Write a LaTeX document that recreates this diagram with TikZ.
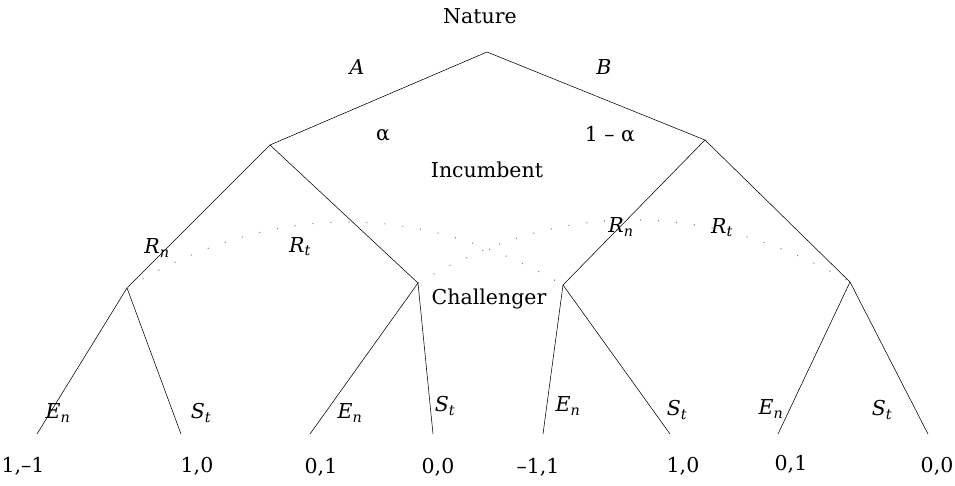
\documentclass[tikz,border=0pt]{standalone}
\usepackage{fontspec}
\setmainfont{DejaVu Serif}
\newcommand{\lab}[2]{\textit{#1}\textsubscript{\textit{#2}}}
\begin{document}
\begin{tikzpicture}[x=1pt,y=-1pt,
  edge/.style={line width=0.55pt},
  infoset/.style={line width=1.1pt,gray,dash pattern=on 1pt off 17pt},
  lbl/.style={font=\fontsize{20.5}{24}\selectfont},
  pay/.style={font=\fontsize{20.5}{24}\selectfont}]
\useasboundingbox (0,0) rectangle (955,485);
% tree nodes
\coordinate (root) at (487,52);
\coordinate (I1) at (270,145);
\coordinate (I2) at (705,140);
\coordinate (C1) at (127,288);
\coordinate (C2) at (418,283);
\coordinate (C3) at (563,285);
\coordinate (C4) at (850,282);
\coordinate (L1) at (37,434);
\coordinate (L2) at (181,434);
\coordinate (L3) at (310,434);
\coordinate (L4) at (433,434);
\coordinate (L5) at (543,434);
\coordinate (L6) at (670,434);
\coordinate (L7) at (778,434);
\coordinate (L8) at (928,434);
% edges
\draw[edge] (root) -- (I1);
\draw[edge] (root) -- (I2);
\draw[edge] (I1) -- (C1);
\draw[edge] (I1) -- (C2);
\draw[edge] (I2) -- (C3);
\draw[edge] (I2) -- (C4);
\draw[edge] (C1) -- (L1);
\draw[edge] (C1) -- (L2);
\draw[edge] (C2) -- (L3);
\draw[edge] (C2) -- (L4);
\draw[edge] (C3) -- (L5);
\draw[edge] (C3) -- (L6);
\draw[edge] (C4) -- (L7);
\draw[edge] (C4) -- (L8);
% information sets
\draw[infoset] (C1) .. controls (272,201) and (418,200) .. (C3);
\draw[infoset] (C2) .. controls (559,199) and (706,199) .. (C4);
% labels
\node[lbl] (nat) at (480,16) {Nature};
\node[lbl] (la) at (357,67) {\textit{A}};
\node[lbl] (lb) at (604,67) {\textit{B}};
\node[lbl] (lal) at (383,135) {α};
\node[lbl] (lal2) at (610,134) {1 – α};
\node[lbl] (inc) at (487,170) {Incumbent};
\node[lbl] (rn1) at (157,248) {\lab{R}{n}};
\node[lbl] (rt1) at (300,247) {\lab{R}{t}};
\node[lbl] (rn2) at (621,227) {\lab{R}{n}};
\node[lbl] (rt2) at (722,228) {\lab{R}{t}};
\node[lbl] (chal) at (489,299) {Challenger};
\node[lbl] (e1) at (58,413) {\lab{E}{n}};
\node[lbl] (s1) at (201,413) {\lab{S}{t}};
\node[lbl] (e2) at (350,413) {\lab{E}{n}};
\node[lbl] (s2) at (445,406) {\lab{S}{t}};
\node[lbl] (e3) at (568,406) {\lab{E}{n}};
\node[lbl] (s3) at (677,410) {\lab{S}{t}};
\node[lbl] (e4) at (771,409) {\lab{E}{n}};
\node[lbl] (s4) at (882,410) {\lab{S}{t}};
% payoffs
\node[pay] (p1) at (23,466) {1,–1};
\node[pay] (p2) at (197,466) {1,0};
\node[pay] (p3) at (321,467) {0,1};
\node[pay] (p4) at (438,467) {0,0};
\node[pay] (p5) at (538,467) {–1,1};
\node[pay] (p6) at (683,466) {1,0};
\node[pay] (p7) at (791,464) {0,1};
\node[pay] (p8) at (937,466) {0,0};
\end{tikzpicture}
\end{document}
